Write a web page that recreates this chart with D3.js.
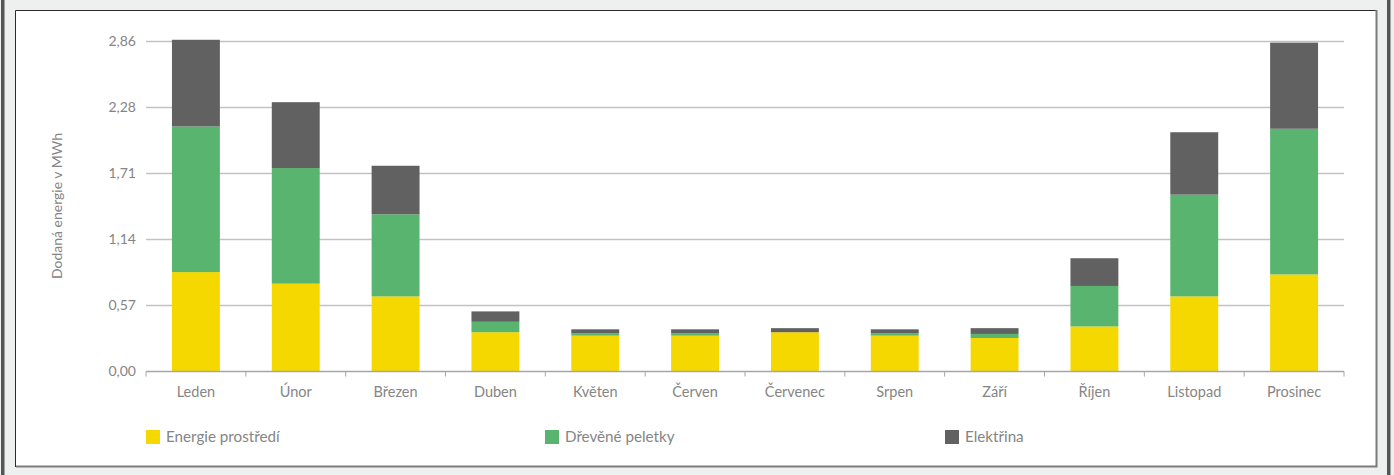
<!DOCTYPE html>
<html><head><meta charset="utf-8">
<script src="https://cdn.jsdelivr.net/npm/d3@7"></script>
<style>
html,body{margin:0;padding:0;background:#eef0ef;}
svg{display:block;font-family:Lato,"Open Sans",sans-serif;}
</style></head>
<body>
<svg id="chart" width="1394" height="475"></svg>
<script>
const months = ["Leden","Únor","Březen","Duben","Květen","Červen","Červenec","Srpen","Září","Říjen","Listopad","Prosinec"];
const energieProstredi = [0.86,0.76,0.65,0.34,0.31,0.31,0.34,0.31,0.29,0.39,0.65,0.84];
const drevenePeletky   = [1.26,1.00,0.71,0.09,0.02,0.02,0.00,0.02,0.035,0.35,0.88,1.26];
const elektrina        = [0.75,0.57,0.42,0.09,0.035,0.035,0.035,0.035,0.05,0.24,0.54,0.745];
const seriesNames = ["Energie prostředí","Dřevěné peletky","Elektřina"];
const seriesColors = ["#f5d800","#58b46e","#616162"];
const yTickValues = [0,0.571,1.142,1.713,2.284,2.855];
const yTickLabels = ["0,00","0,57","1,14","1,71","2,28","2,86"];
const yTitle = "Dodaná energie v MWh";

const svg = d3.select("#chart");
// outer frame decorations
svg.append("rect").attr("x",1).attr("y",0).attr("width",3.5).attr("height",475).attr("fill","#555");
svg.append("rect").attr("x",1387).attr("y",0).attr("width",3.5).attr("height",475).attr("fill","#555");
svg.append("rect").attr("x",15).attr("y",10).attr("width",1362).attr("height",457).attr("fill","#fff");
svg.append("path").attr("d","M15.5,467 V10.5 H1377").attr("fill","none").attr("stroke","#2b2b2b").attr("stroke-width",1);
svg.append("path").attr("d","M16,466.5 H1376.5 V10").attr("fill","none").attr("stroke","#7a7a7a").attr("stroke-width",2);

const x0 = 146, x1 = 1344, yTop = 41.5, yBot = 371.5;
const x = d3.scaleBand().domain(months).range([x0,x1]).paddingInner(0.52).paddingOuter(0.26);
const y = d3.scaleLinear().domain([0,2.855]).range([yBot,yTop]);

const data = months.map((m,i)=>({month:m, e:energieProstredi[i], d:drevenePeletky[i], el:elektrina[i]}));
const stack = d3.stack().keys(["e","d","el"]);
const stacked = stack(data);

// gridlines
const g = svg.append("g");
g.selectAll("line.grid").data(yTickValues.slice(1)).join("line")
  .attr("x1",x0).attr("x2",x1).attr("y1",d=>y(d)).attr("y2",d=>y(d))
  .attr("stroke","#c2c2c2").attr("stroke-width",1.5);

// y labels
g.selectAll("text.yl").data(yTickValues).join("text")
  .attr("x",136).attr("y",d=>y(d)).attr("dy","0.35em").attr("text-anchor","end")
  .attr("fill","#858585").attr("font-size",14).text((d,i)=>yTickLabels[i]);

// bars
stacked.forEach((s,si)=>{
  g.append("g").selectAll("rect").data(s).join("rect")
    .attr("x",d=>x(d.data.month)).attr("width",x.bandwidth())
    .attr("y",d=>y(d[1])).attr("height",d=>Math.max(0,y(d[0])-y(d[1])))
    .attr("fill",seriesColors[si]);
});

// x axis
const step = (x1-x0)/months.length;
g.append("line").attr("x1",x0).attr("x2",x1).attr("y1",yBot).attr("y2",yBot).attr("stroke","#a6a6a6").attr("stroke-width",1.5);
g.selectAll("line.tk").data(d3.range(months.length+1)).join("line")
  .attr("x1",i=>x0+i*step).attr("x2",i=>x0+i*step).attr("y1",yBot).attr("y2",yBot+5)
  .attr("stroke","#a6a6a6").attr("stroke-width",1);
g.selectAll("text.xl").data(months).join("text")
  .attr("x",d=>x(d)+x.bandwidth()/2).attr("y",392).attr("dy","0.35em").attr("text-anchor","middle")
  .attr("fill","#858585").attr("font-size",14.5).text(d=>d);

// y title
svg.append("text").attr("transform","translate(57,206) rotate(-90)").attr("dy","0.35em")
  .attr("text-anchor","middle").attr("fill","#858585").attr("font-size",14).text(yTitle);

// legend
const legX = [146,545,945];
const leg = svg.append("g").selectAll("g").data(seriesNames).join("g")
  .attr("transform",(d,i)=>`translate(${legX[i]},430)`);
leg.append("rect").attr("width",14).attr("height",14).attr("fill",(d,i)=>seriesColors[i]);
leg.append("text").attr("x",20).attr("y",7).attr("dy","0.35em").attr("fill","#858585").attr("font-size",15.2).text(d=>d);
</script>
</body></html>
